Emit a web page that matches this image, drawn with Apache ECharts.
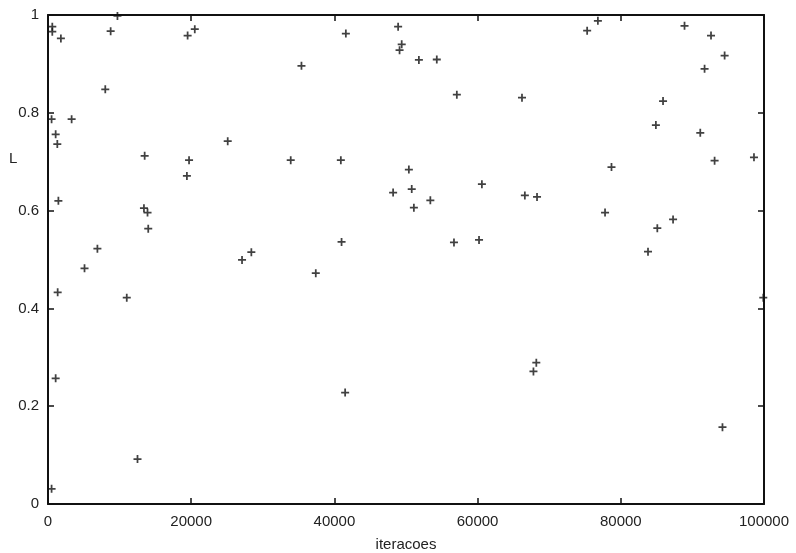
<!DOCTYPE html>
<html>
<head>
<meta charset="utf-8">
<script src="https://cdn.jsdelivr.net/npm/echarts@6/dist/echarts.min.js"></script>
<style>
  html, body { margin: 0; padding: 0; background: #fff; }
  #chart { width: 796px; height: 553px; }
</style>
</head>
<body>
<div id="chart"></div>
<script>
  // iteracoes (x) e L (y)
  var iteracoes = [
    600, 600, 1800, 9700, 8750, 19500, 20500, 8000, 500, 3300,
    1070, 1300, 13500, 19700, 19400, 25100, 1450, 13400, 13900, 14000,
    6900, 5100, 27100, 28400, 1350, 11000, 1070, 12500, 500,
    41600, 48900, 49400, 49100, 51800, 54300, 35400, 57100, 66200,
    33900, 40900, 50400, 48200, 50800, 53400, 51100, 60600, 66600,
    41000, 56700, 60200, 37400, 41500,
    76800, 75300, 88900, 92600, 94500, 91700, 85900, 84900, 91100, 98600,
    93100, 78700, 68300, 77800, 87300, 85100, 83800,
    99900, 68200, 67800, 94200
  ];
  var valoresL = [
    0.976, 0.966, 0.952, 0.998, 0.967, 0.958, 0.971, 0.848, 0.787, 0.787,
    0.756, 0.736, 0.712, 0.703, 0.671, 0.742, 0.620, 0.605, 0.596, 0.563,
    0.522, 0.482, 0.499, 0.515, 0.433, 0.422, 0.257, 0.092, 0.031,
    0.962, 0.976, 0.940, 0.928, 0.908, 0.909, 0.896, 0.837, 0.831,
    0.703, 0.703, 0.684, 0.637, 0.644, 0.621, 0.606, 0.654, 0.631,
    0.536, 0.535, 0.540, 0.472, 0.228,
    0.988, 0.968, 0.978, 0.958, 0.917, 0.890, 0.824, 0.775, 0.759, 0.709,
    0.702, 0.689, 0.628, 0.596, 0.582, 0.564, 0.516,
    0.422, 0.289, 0.271, 0.157
  ];
  var xTicks = [0, 20000, 40000, 60000, 80000, 100000];
  var yTicks = [0, 0.2, 0.4, 0.6, 0.8, 1];

  var pontos = iteracoes.map(function (x, i) { return [x, valoresL[i]]; });

  var fonte = 'Liberation Sans, Arial, sans-serif';
  // cruz "+" como path preenchido
  var cruz = 'path://M3.9,0 H6.1 V3.9 H10 V6.1 H6.1 V10 H3.9 V6.1 H0 V3.9 H3.9 Z';

  var chart = echarts.init(document.getElementById('chart'));

  function eixoX(pos, mostrarLabel) {
    return {
      type: 'value',
      position: pos,
      min: xTicks[0],
      max: xTicks[xTicks.length - 1],
      interval: xTicks[1] - xTicks[0],
      name: mostrarLabel ? 'iteracoes' : '',
      nameLocation: 'middle',
      nameGap: 33,
      nameTextStyle: { color: '#222', fontFamily: fonte, fontSize: 15 },
      axisLine: { show: true, onZero: false, lineStyle: { color: '#111', width: 2 } },
      axisTick: { show: true, inside: true, length: 6, lineStyle: { color: '#111', width: 1.5 } },
      axisLabel: {
        show: mostrarLabel, color: '#222', fontFamily: fonte, fontSize: 15, margin: 10,
        formatter: function (v) { return String(v); }
      },
      splitLine: { show: false }
    };
  }

  function eixoY(pos, mostrarLabel) {
    return {
      type: 'value',
      position: pos,
      min: yTicks[0],
      max: yTicks[yTicks.length - 1],
      interval: 0.2,
      axisLine: { show: true, onZero: false, lineStyle: { color: '#111', width: 2 } },
      axisTick: { show: true, inside: true, length: 6, lineStyle: { color: '#111', width: 1.5 } },
      axisLabel: {
        show: mostrarLabel, color: '#222', fontFamily: fonte, fontSize: 15, margin: 9,
        formatter: function (v) { return String(Math.round(v * 10) / 10); }
      },
      splitLine: { show: false }
    };
  }

  chart.setOption({
    backgroundColor: '#fff',
    animation: false,
    grid: { left: 48, right: 32, top: 15, bottom: 49, outerBoundsMode: 'none', containLabel: false },
    xAxis: [eixoX('bottom', true), eixoX('top', false)],
    yAxis: [eixoY('left', true), eixoY('right', false)],
    graphic: [{
      type: 'text',
      left: 9,
      top: 151,
      style: { text: 'L', fill: '#222', font: '15px ' + fonte }
    }],
    series: [{
      type: 'scatter',
      xAxisIndex: 0,
      yAxisIndex: 0,
      data: pontos,
      symbol: cruz,
      symbolSize: 8,
      itemStyle: { color: '#111' }
    }]
  });
</script>
</body>
</html>
